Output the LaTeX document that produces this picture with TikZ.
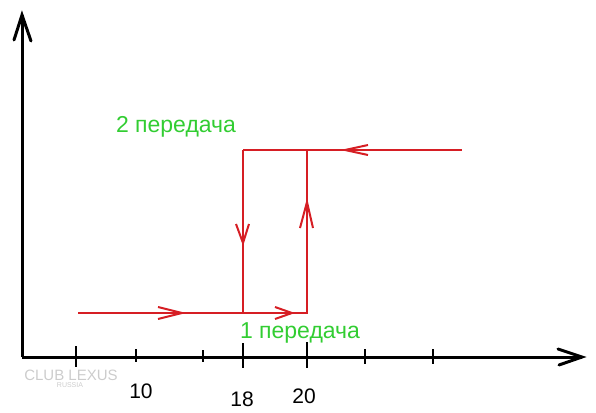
\documentclass[tikz,border=0pt]{standalone}
\usepackage{fontspec}
\setmainfont{Liberation Sans}
\begin{document}
\begin{tikzpicture}[x=1pt,y=-1pt,
  axis/.style={line width=3pt,black},
  tick/.style={line width=1.6pt,black},
  path/.style={line width=2pt,draw={rgb,255:red,214;green,30;blue,36}},
  lbl/.style={font=\fontsize{21}{24}\selectfont,inner sep=0pt},
  gear/.style={font=\fontsize{23}{26}\selectfont,inner sep=0pt,text={rgb,255:red,50;green,205;blue,50}},
  wm/.style={font=\fontsize{15}{16}\selectfont,inner sep=0pt,text=black!20}]
\useasboundingbox (0,0) rectangle (596,412);
% axes
\coordinate (O) at (22,357);
\coordinate (Y) at (22,15);
\coordinate (X) at (582,357);
\draw[axis] (O) -- (Y);
\draw[axis] (O) -- (X);
\draw[axis,line cap=round] (14,40) -- (Y) -- (31,41);
\draw[axis,line cap=round] (558,349) -- (X) -- (559,365);
% ticks
\draw[tick] (76,346) -- (76,367);
\draw[tick] (136,349) -- (136,362);
\draw[tick] (203,350) -- (203,362);
\draw[tick] (243,343) -- (243,368);
\draw[tick] (307,342) -- (307,368);
\draw[tick] (365,349) -- (365,364);
\draw[tick] (433,349) -- (433,364);
% tick labels
\node[lbl] (l10) at (141,391) {10};
\node[lbl] (l18) at (242,399) {18};
\node[lbl] (l20) at (304,396) {20};
% watermark
\node[wm] (wm1) at (71,375) {CLUB LEXUS};
\node[wm,font=\fontsize{7}{8}\selectfont] (wm2) at (70,385) {RUSSIA};
% hysteresis path
\coordinate (A) at (78,313);
\coordinate (B) at (243,313);
\coordinate (C) at (307,313);
\coordinate (D) at (307,150);
\coordinate (E) at (243,150);
\coordinate (F) at (462,150);
\draw[path] (A) -- (C) -- (D) -- (F);
\draw[path] (E) -- (D);
\draw[path] (E) -- (B);
% direction marks
\draw[path] (158,307) -- (182,313) -- (158,319);
\draw[path] (275,307) -- (292,313) -- (275,319);
\draw[path] (236,224) -- (243,243) -- (249,224);
\draw[path] (300,228) -- (307,202) -- (313,228);
\draw[path] (368,145) -- (345,150) -- (368,155);
% gear labels
\node[gear] (g2) at (176,127) {2 передача};
\node[gear] (g1) at (300,333) {1 передача};
\end{tikzpicture}
\end{document}
